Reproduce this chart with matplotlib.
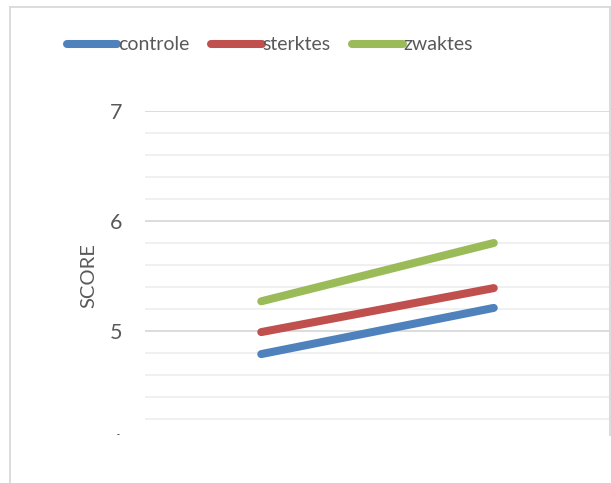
import numpy as np
import matplotlib
matplotlib.use('Agg')
import matplotlib.pyplot as plt
from matplotlib.lines import Line2D
from matplotlib.patches import Rectangle

plt.rcParams['font.family'] = ['Lato', 'DejaVu Sans']

# ── Data ──────────────────────────────────────────────────────────────────
metingen = ['voormeting', 'nameting']   # x categories (labels cut off in the reference)
controle = [4.79, 5.21]
sterktes = [4.99, 5.39]
zwaktes  = [5.27, 5.80]
series_names  = ['controle', 'sterktes', 'zwaktes']
series_colors = ['#4F81BD', '#C0504D', '#9BBB59']

# ── Figure in pixel units ─────────────────────────────────────────────────
W, H = 611, 483
fig = plt.figure(figsize=(W / 100, H / 100), dpi=100)
ax = fig.add_axes([145 / W, 1 - 441 / H, 465 / W, 330 / H])

x = np.arange(len(metingen))
for name, vals, col in zip(series_names, [controle, sterktes, zwaktes], series_colors):
    ax.plot(x, vals, color=col, lw=5.8, solid_capstyle='round', label=name, zorder=3)

ax.set_xlim(-0.5, 1.5)
ax.set_ylim(4, 7)
ax.set_xticks(x, metingen)
ax.set_yticks([4, 5, 6, 7])
minor = [v for v in np.round(np.arange(4, 7.01, 0.2), 1) if v % 1 != 0]
ax.set_yticks(minor, minor=True)
ax.grid(which='major', axis='y', color='#d9d9d9', lw=1.3)
ax.grid(which='minor', axis='y', color='#efefef', lw=1.3)
ax.grid(which='major', axis='x', visible=False)
ax.set_axisbelow(True)
for s in ax.spines.values():
    s.set_visible(False)
ax.tick_params(axis='both', which='both', length=0, labelcolor='#595959',
               labelsize=15.5, pad=16.5)

fig.text(88.5 / W, 1 - 276 / H, 'SCORE', rotation=90, ha='center', va='center',
         color='#595959', fontsize=14.5)

# legend across the top
fig.legend(loc='center', bbox_to_anchor=(270 / W, 1 - 45 / H), ncol=3,
           frameon=False, fontsize=14, labelcolor='#595959',
           handlelength=2.6, handletextpad=0.05, columnspacing=1.1)

# the reference is cropped just below the plot area
fig.add_artist(Rectangle((12 / W, 0), 1, (H - 435) / H, transform=fig.transFigure,
                         facecolor='white', edgecolor='none', zorder=10))

# chart frame
frame = dict(color='#d9d9d9', lw=1.3, transform=fig.transFigure, zorder=11)
fig.add_artist(Line2D([10 / W, 10 / W], [0, 1 - 7 / H], **frame))
fig.add_artist(Line2D([10 / W, 610 / W], [1 - 7 / H, 1 - 7 / H], **frame))
fig.add_artist(Line2D([610 / W, 610 / W], [1 - 7 / H, 1 - 435 / H], **frame))

fig.savefig('out.png', dpi=100)
